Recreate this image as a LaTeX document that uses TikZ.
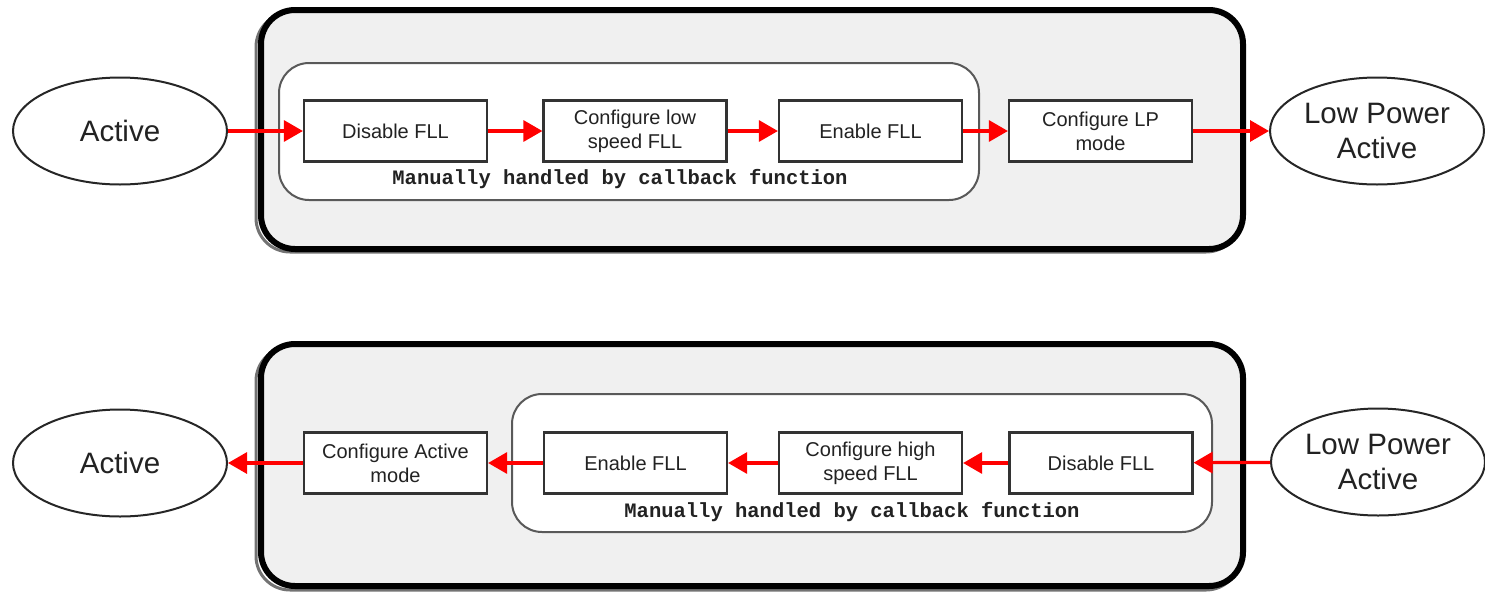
\documentclass[tikz,border=0pt]{standalone}
\usepackage{fontspec}
\setmainfont{Liberation Sans}
\setmonofont{Liberation Mono}
\usetikzlibrary{shapes.geometric,arrows.meta}
\definecolor{panelgray}{HTML}{F0F0F0}
\definecolor{txt}{HTML}{222222}
\definecolor{arrred}{HTML}{FF0000}
\tikzset{
  panel/.style={draw=black,line width=6pt,fill=panelgray,rounded corners=34pt},
  group/.style={draw=black!65,line width=2pt,fill=white,rounded corners=30pt},
  stepbox/.style={draw=black!80,line width=2.2pt,fill=white,minimum width=183pt,minimum height=61pt,
     inner sep=0pt,align=center,text=txt,font=\fontsize{20}{24}\selectfont},
  state/.style={ellipse,draw=black!85,line width=2pt,fill=white,minimum width=214pt,minimum height=107pt,
     inner sep=0pt,align=center,text=txt,font=\fontsize{29.5}{35}\selectfont},
  flow/.style={draw=arrred,line width=3.2pt,-{Triangle[length=19pt,width=21pt]}},
  note/.style={font=\ttfamily\bfseries\fontsize{20.5}{22}\selectfont,text=txt,inner sep=0pt}
}
\begin{document}
\begin{tikzpicture}[x=1pt,y=-1pt]
\useasboundingbox (0,0) rectangle (1485,592);
% ---------- top panel ----------
\draw[black!55,line width=3pt,rounded corners=34pt] (256,13) rectangle (1240,252);
\path[panel] (261,10) rectangle (1243,249);
\path[group] (279,63) rectangle (979,200);
\node[state] (a1) at (120,131) {Active};
\node[stepbox] (d1) at (395.5,131) {Disable FLL};
\node[stepbox] (c1) at (635,131) {Configure low\\speed FLL};
\node[stepbox] (e1) at (870.5,131) {Enable FLL};
\node[stepbox] (l1) at (1100.5,131) {Configure LP\\mode};
\node[state] (p1) at (1377,131) {Low Power\\Active};
\node[note] (n1) at (620,179) {Manually handled by callback function};
\draw[flow] (a1) -- (d1);
\draw[flow] (d1) -- (c1);
\draw[flow] (c1) -- (e1);
\draw[flow] (e1) -- (l1);
\draw[flow] (l1) -- (p1);
% ---------- bottom panel ----------
\draw[black!55,line width=3pt,rounded corners=34pt] (256,347) rectangle (1240,590);
\path[panel] (261,344) rectangle (1243,586);
\path[group] (512,394) rectangle (1212,532);
\node[state] (a2) at (120,463) {Active};
\node[stepbox] (m2) at (395.5,463) {Configure Active\\mode};
\node[stepbox] (e2) at (635.5,463) {Enable FLL};
\node[stepbox] (c2) at (870.5,463) {Configure high\\speed FLL};
\node[stepbox] (d2) at (1101,463) {Disable FLL};
\node[state] (p2) at (1378,462) {Low Power\\Active};
\node[note] (n2) at (852,512) {Manually handled by callback function};
\draw[flow] (p2) -- (d2);
\draw[flow] (d2) -- (c2);
\draw[flow] (c2) -- (e2);
\draw[flow] (e2) -- (m2);
\draw[flow] (m2) -- (a2);
\end{tikzpicture}
\end{document}
